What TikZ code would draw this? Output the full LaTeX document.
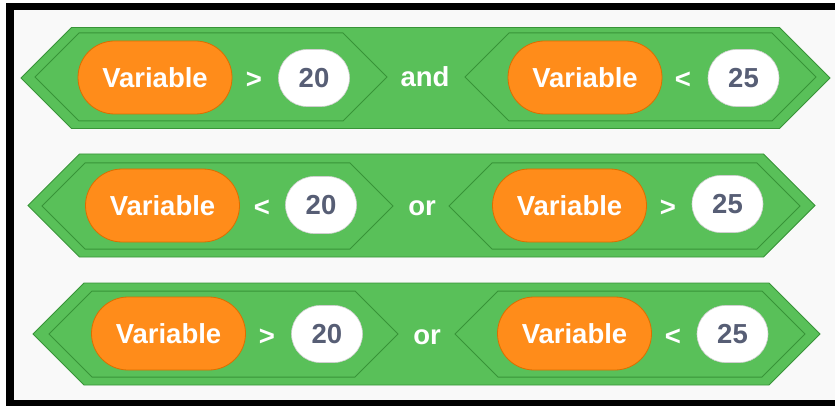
\documentclass[tikz,border=0pt]{standalone}
\usepackage{fontspec}
\usepackage{tikz}
\usetikzlibrary{positioning}

\newfontfamily\blockfont{Liberation Sans}

\definecolor{opgreen}{HTML}{59C059}
\definecolor{opgreenline}{HTML}{389438}
\definecolor{varorange}{HTML}{FF8C1A}
\definecolor{varorangeline}{HTML}{DB6E00}
\definecolor{numtext}{HTML}{575E75}
\definecolor{numline}{HTML}{CFCFCF}
\definecolor{stage}{HTML}{F9F9F9}

% hexagon block: style, left tip, right tip, middle y, half height
\newcommand{\hexblock}[5]{%
	\draw[#1] (#2,#4) -- (#2+#5,#4-#5) -- (#3-#5,#4-#5) -- (#3,#4)
		-- (#3-#5,#4+#5) -- (#2+#5,#4+#5) -- cycle;
}

\begin{document}
\begin{tikzpicture}[x=1pt, y=-1pt]
	\tikzstyle{outerhex} = [fill=opgreen, draw=opgreenline, line width=0.8pt, line join=miter]
	\tikzstyle{innerhex} = [fill=opgreen, draw=opgreenline, line width=1pt, line join=miter]
	\tikzstyle{blocktext} = [font=\blockfont\bfseries\fontsize{27.5}{31}\selectfont, inner sep=0pt]
	\tikzstyle{var} = [blocktext, text=white, fill=varorange, draw=varorangeline, line width=0.8pt,
		rounded corners=36.5pt, minimum width=154pt, minimum height=73pt]
	\tikzstyle{num} = [blocktext, text=numtext, fill=white, draw=numline, line width=0.6pt,
		rounded corners=28.5pt, minimum width=71pt, minimum height=57pt]
	\tikzstyle{word} = [blocktext, text=white]

	% frame and stage
	\useasboundingbox (0,0) rectangle (835,406);
	\fill[white] (0,0) rectangle (835,406);
	\fill[black] (6,3) rectangle (835,406);
	\fill[stage] (14,10) rectangle (835,400);

	% first row
	\begin{scope}
		\hexblock{outerhex}{21}{830}{78}{50.5}
		\hexblock{innerhex}{35}{387}{77}{44}
		\hexblock{innerhex}{465}{816}{77}{44}
		\path
			node[var] (r1var1) at (155,77.5) {Variable}
			node[word] (r1gt) at (254,80) {>}
			node[num] (r1num1) at (314,78) {20}
			node[word] (r1and) at (425,77) {and}
			node[var] (r1var2) at (585,77.5) {Variable}
			node[word] (r1lt) at (683,80) {<}
			node[num] (r1num2) at (743.5,78) {25}
		;
	\end{scope}

	% second row
	\begin{scope}
		\hexblock{outerhex}{28}{815}{205.5}{51.5}
		\hexblock{innerhex}{42}{393}{206}{43}
		\hexblock{innerhex}{449}{800}{206}{43}
		\path
			node[var] (r2var1) at (162.5,205.5) {Variable}
			node[word] (r2lt) at (262,208) {<}
			node[num] (r2num1) at (321,205) {20}
			node[word] (r2or) at (422,208) {or}
			node[var] (r2var2) at (569.5,205.5) {Variable}
			node[word] (r2gt) at (668,208) {>}
			node[num] (r2num2) at (727.5,204) {25}
		;
	\end{scope}

	% third row
	\begin{scope}
		\hexblock{outerhex}{33}{820}{334}{51}
		\hexblock{innerhex}{49}{398}{334}{43}
		\hexblock{innerhex}{455}{805}{334}{43}
		\path
			node[var] (r3var1) at (168.5,333.5) {Variable}
			node[word] (r3gt) at (267,337) {>}
			node[num] (r3num1) at (327,334) {20}
			node[word] (r3or) at (427,337) {or}
			node[var] (r3var2) at (574.5,333.5) {Variable}
			node[word] (r3lt) at (673,337) {<}
			node[num] (r3num2) at (732.5,334) {25}
		;
	\end{scope}
\end{tikzpicture}
\end{document}
